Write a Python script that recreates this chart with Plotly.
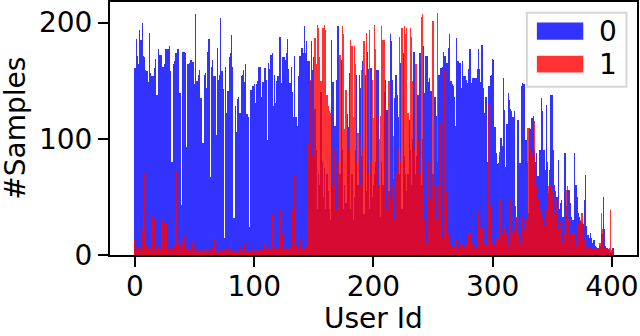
import plotly.graph_objects as go

# samples per user, label 0 (blue) and label 1 (red)
samples_0 = [
    161, 186, 171, 164, 194, 185, 200, 171, 170, 159,
    158, 149, 191, 157, 154, 154, 161, 169, 138, 138,
    177, 172, 172, 162, 162, 164, 177, 177, 177, 180,
    158, 80, 164, 167, 174, 174, 177, 139, 139, 43,
    175, 175, 174, 93, 164, 164, 165, 168, 166, 166,
    147, 207, 150, 155, 159, 135, 135, 96, 155, 157,
    144, 175, 186, 67, 162, 168, 154, 154, 103, 178,
    151, 155, 204, 158, 143, 15, 162, 122, 141, 170,
    174, 189, 162, 32, 128, 106, 134, 136, 122, 154,
    155, 159, 149, 164, 121, 119, 24, 142, 142, 145,
    147, 131, 147, 150, 162, 162, 136, 149, 149, 161,
    151, 99, 165, 160, 172, 174, 128, 155, 131, 150,
    154, 188, 188, 148, 170, 170, 168, 174, 186, 160,
    148, 162, 140, 119, 171, 119, 111, 154, 171, 171,
    178, 174, 197, 174, 184, 167, 167, 150, 184, 159,
    170, 126, 90, 40, 70, 60, 140, 80, 50, 75,
    40, 70, 55, 40, 30, 185, 149, 111, 111, 151,
    197, 197, 70, 168, 90, 40, 60, 45, 121, 110,
    157, 40, 70, 30, 50, 90, 155, 60, 155, 144,
    85, 167, 35, 155, 55, 175, 160, 40, 161, 50,
    60, 70, 80, 159, 159, 60, 33, 80, 60, 140,
    151, 125, 125, 55, 190, 184, 151, 65, 135, 155,
    138, 119, 70, 165, 40, 174, 85, 70, 55, 70,
    116, 90, 60, 100, 175, 70, 85, 138, 138, 174,
    60, 100, 180, 139, 171, 171, 149, 152, 141, 141,
    70, 136, 136, 120, 80, 155, 161, 161, 162, 175,
    171, 165, 165, 178, 190, 150, 147, 145, 136, 111,
    187, 167, 165, 165, 144, 167, 154, 154, 151, 148,
    160, 177, 148, 152, 152, 152, 152, 160, 177, 160,
    149, 181, 144, 122, 136, 136, 80, 145, 154, 155,
    169, 168, 110, 88, 78, 79, 85, 101, 94, 152,
    125, 76, 113, 139, 133, 126, 124, 119, 124, 42,
    32, 116, 116, 79, 145, 148, 147, 147, 99, 79,
    36, 109, 108, 118, 120, 90, 80, 88, 68, 90,
    90, 135, 124, 90, 73, 129, 80, 53, 73, 138,
    138, 90, 60, 55, 50, 82, 40, 45, 47, 33,
    88, 88, 42, 56, 56, 45, 33, 30, 30, 88,
    60, 50, 36, 33, 29, 28, 27, 47, 69, 25,
    17, 15, 19, 15, 10, 13, 8, 7, 6, 6,
    8, 18, 18, 50, 22, 8, 6, 5, 4, 3,
    3, 6,
]

samples_1 = [
    14, 6, 3, 6, 36, 4, 22, 45, 70, 20,
    8, 6, 4, 5, 34, 34, 30, 19, 4, 6,
    8, 5, 30, 30, 6, 27, 27, 5, 4, 3,
    6, 4, 5, 8, 34, 72, 10, 5, 6, 39,
    12, 17, 5, 6, 17, 4, 3, 5, 11, 4,
    6, 4, 3, 4, 8, 3, 5, 4, 3, 5,
    4, 4, 3, 5, 4, 6, 24, 14, 3, 4,
    3, 5, 4, 3, 6, 4, 3, 4, 6, 4,
    3, 13, 4, 3, 5, 3, 4, 3, 6, 4,
    3, 5, 10, 4, 3, 4, 6, 3, 5, 4,
    3, 5, 4, 6, 3, 4, 3, 5, 4, 10,
    4, 5, 6, 3, 5, 36, 4, 7, 5, 4,
    6, 5, 39, 4, 19, 5, 3, 6, 4, 5,
    6, 4, 39, 5, 69, 8, 41, 4, 108, 13,
    6, 20, 5, 19, 8, 36, 96, 151, 76, 86,
    19, 187, 164, 198, 195, 170, 150, 195, 195, 198,
    194, 138, 128, 124, 122, 106, 60, 90, 110, 40,
    120, 80, 172, 60, 197, 190, 108, 142, 60, 90,
    100, 185, 180, 119, 180, 164, 80, 105, 70, 60,
    159, 90, 184, 60, 191, 100, 70, 194, 80, 151,
    118, 198, 177, 120, 60, 100, 120, 197, 185, 185,
    90, 40, 70, 150, 50, 40, 60, 102, 30, 70,
    40, 90, 188, 80, 195, 120, 197, 190, 195, 122,
    80, 195, 188, 150, 90, 164, 164, 60, 100, 70,
    205, 207, 120, 30, 13, 10, 80, 20, 47, 30,
    201, 60, 40, 30, 208, 60, 113, 27, 15, 12,
    159, 55, 20, 18, 13, 10, 7, 79, 7, 14,
    13, 7, 19, 10, 13, 9, 6, 10, 10, 13,
    18, 19, 9, 10, 7, 7, 7, 20, 37, 30,
    23, 23, 79, 10, 19, 8, 12, 131, 42, 19,
    10, 13, 8, 14, 22, 15, 89, 47, 19, 12,
    24, 24, 19, 8, 30, 47, 17, 19, 22, 12,
    33, 80, 19, 10, 30, 33, 15, 22, 30, 109,
    109, 102, 90, 85, 45, 115, 76, 60, 47, 76,
    40, 22, 33, 25, 19, 39, 45, 59, 72, 60,
    55, 53, 36, 40, 47, 22, 33, 28, 24, 10,
    19, 30, 56, 59, 30, 16, 13, 19, 19, 19,
    9, 15, 27, 33, 30, 36, 19, 13, 9, 7,
    6, 5, 7, 7, 5, 6, 6, 5, 6, 6,
    10, 36, 22, 12, 7, 4, 6, 5, 6, 39,
    4, 4,
]

labels = ["0", "1"]
colors = ["rgba(0,0,255,0.8)", "rgba(255,0,0,0.8)"]
x_ticks = [0, 100, 200, 300, 400]
y_ticks = [0, 100, 200]

FONT = dict(family="DejaVu Sans", size=28, color="black")

fig = go.Figure()
for vals, lab, col in zip([samples_0, samples_1], labels, colors):
    fig.add_trace(go.Bar(
        x=list(range(len(vals))),
        y=vals,
        name=lab,
        width=1.0,
        marker=dict(color=col, line=dict(width=0)),
        showlegend=False,
    ))

# matplotlib-like legend box, drawn by hand (wide colour patches)
fig.add_shape(type="rect", xref="paper", yref="paper",
              x0=0.791, x1=0.980, y0=0.665, y1=0.958,
              line=dict(color="#d6d6d6", width=2), fillcolor="white", layer="above")
patch_y = [(0.851, 0.919), (0.721, 0.788)]
for (y0, y1), lab, col in zip(patch_y, labels, colors):
    fig.add_shape(type="rect", xref="paper", yref="paper",
                  x0=0.810, x1=0.898, y0=y0, y1=y1,
                  line=dict(width=0), fillcolor=col, layer="above")
    fig.add_annotation(xref="paper", yref="paper", x=0.945, y=(y0 + y1) / 2,
                       text=lab, showarrow=False, font=FONT,
                       xanchor="center", yanchor="middle")

# axis titles as annotations, plotly keeps real titles inside the margin
fig.add_annotation(xref="paper", yref="paper", x=0.5, y=-0.25,
                   text="User Id", showarrow=False, font=FONT, borderpad=0,
                   xanchor="center", yanchor="middle")
fig.add_annotation(xref="paper", yref="paper", x=-0.180, y=0.5,
                   text="#Samples", textangle=-90, showarrow=False, font=FONT,
                   xanchor="center", yanchor="middle")

axis_common = dict(
    showline=True, linecolor="black", linewidth=2, mirror=True,
    ticks="outside", ticklen=10, tickwidth=2, tickcolor="black",
    showgrid=False, zeroline=False, tickfont=FONT, automargin=False,
)

fig.update_layout(
    barmode="overlay",
    bargap=0,
    width=640, height=336,
    margin=dict(l=110, r=3, t=2, b=81),
    plot_bgcolor="white", paper_bgcolor="white",
    font=FONT,
    xaxis=dict(range=[-21, 421.1], tickvals=x_ticks, ticklabelstandoff=-5, **axis_common),
    yaxis=dict(range=[0, 217.7], tickvals=y_ticks, **axis_common),
)

# the page body has a default 8px margin, drop it so the figure sits at 0,0
fig.write_html("out.html", config={"displayModeBar": False},
               post_script="document.body.style.margin='0px';")
